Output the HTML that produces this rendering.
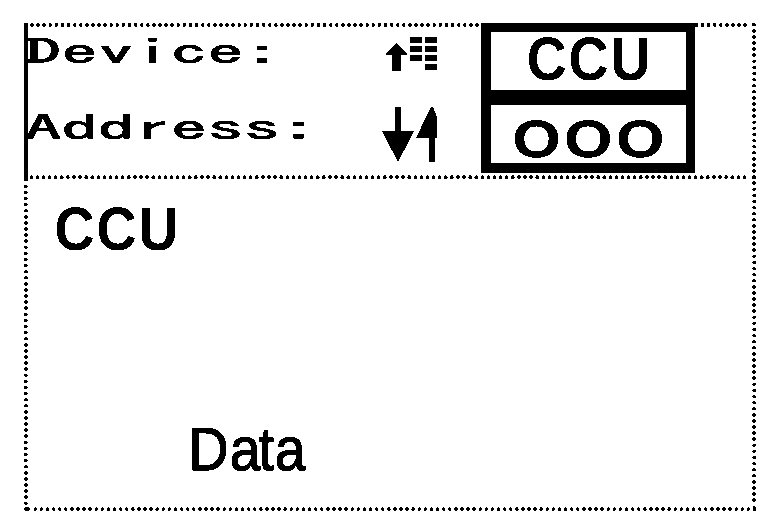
<!DOCTYPE html>
<html lang="en">
<head>
<meta charset="utf-8">
<title>Device CCU</title>
<style>
  html, body { margin: 0; padding: 0; background: #fff; }
  body { width: 768px; height: 531px; overflow: hidden; position: relative; }
  svg { position: absolute; left: 0; top: 0; display: block; }
  text { fill: #000; stroke: #000; stroke-width: 0; text-rendering: geometricPrecision; }
  .dot { stroke: #000; stroke-width: 3.7; stroke-linecap: round; stroke-dasharray: 0.01 6.085; fill: none; }
  .lbl { font-family: "IPAGothic", "DejaVu Sans Mono", "Liberation Mono", monospace; font-size: 34.4px; stroke-width: 0.8px; }
  .big { font-family: "Liberation Sans", sans-serif; font-weight: bold; font-size: 58px; letter-spacing: 2.05px; }
  .addr { font-family: "Liberation Sans", sans-serif; font-weight: bold; font-size: 50px; stroke-width: 0.3px; letter-spacing: 3.0px; }
  .data { font-family: "Liberation Sans", sans-serif; font-size: 56px; stroke-width: 1.2px; }
</style>
</head>
<body>
<svg width="768" height="531" viewBox="0 0 768 531">
  <defs>
    <filter id="bw" x="0" y="0" width="768" height="531" filterUnits="userSpaceOnUse" color-interpolation-filters="sRGB">
      <feColorMatrix type="saturate" values="0"/>
      <feComponentTransfer>
        <feFuncR type="discrete" tableValues="0 1"/>
        <feFuncG type="discrete" tableValues="0 1"/>
        <feFuncB type="discrete" tableValues="0 1"/>
      </feComponentTransfer>
    </filter>
  </defs>
  <g filter="url(#bw)">
  <rect width="768" height="531" fill="#fff"/>
  <!-- dotted frame -->
  <line x1="32" y1="24.9" x2="746" y2="24.9" class="dot"/>
  <line x1="31.3" y1="177.2" x2="748" y2="177.2" class="dot"/>
  <line x1="35.3" y1="509" x2="750" y2="509" class="dot"/>
  <line x1="25.9" y1="186.3" x2="25.9" y2="506" class="dot"/>
  <line x1="754.1" y1="30.8" x2="754.1" y2="505" class="dot"/>
  <g fill="#000">
    <rect x="751.6" y="23.3" width="4" height="3"/>
    <rect x="751.6" y="175.7" width="4" height="3"/>
    <rect x="752.6" y="506.5" width="3.2" height="4.5"/>
    <rect x="24.3" y="507.3" width="5.4" height="3.2"/>
    <rect x="475.8" y="23" width="2.4" height="4"/>
    <rect x="695" y="23.3" width="2.8" height="3.2"/>
  </g>
  <!-- solid left bar -->
  <rect x="24" y="23.5" width="4" height="157" fill="#000"/>
  <!-- value box -->
  <path fill="#000" fill-rule="evenodd" d="M481 23H695.2V172.7H481Z M491 32V90.1H686V32Z M491 105.1V163.1H686V105.1Z"/>
  <!-- list icon -->
  <path fill="#000" d="M396.5 42.7 L407.2 53.4 V54.8 H401 V71 H392 V54.8 H385.8 V53.4 Z"/>
  <g fill="#000">
    <rect x="410" y="37" width="12" height="6"/><rect x="425" y="37" width="12" height="6"/>
    <rect x="410" y="46" width="12" height="6"/><rect x="425" y="46" width="12" height="6"/>
    <rect x="410" y="55" width="12" height="6"/><rect x="425" y="55" width="12" height="6"/>
    <rect x="425" y="64" width="12" height="6"/>
  </g>
  <!-- up/down arrows -->
  <path fill="#000" d="M395 107 H401 V131.2 H414 L398 162 L382 131.2 H395 Z"/>
  <path fill="#000" d="M431 107 H433 L437 117 V137.7 H435 V162 H429 V137.7 H416 Z"/>
  <!-- texts -->
  <text class="lbl" transform="translate(24.75 64.3) scale(2.122 1)" textLength="120.40" lengthAdjust="spacingAndGlyphs">Device:</text>
  <text class="lbl" transform="translate(24.75 140.1) scale(2.122 1)" textLength="137.60" lengthAdjust="spacingAndGlyphs">Address:</text>
  <text class="big" transform="translate(526.7 80.2) scale(0.954 1.06)">CCU</text>
  <text class="addr" transform="translate(512.5 156.9) scale(1.237 1.05)">OOO</text>
  <text class="big" transform="translate(54.5 250.0) scale(0.954 1.06)">CCU</text>
  <text class="data" transform="translate(0 470.3) scale(0.99 1.085)" x="190.40 232.02 261.01 277.47" y="0">Data</text>
  </g>
</svg>
</body>
</html>
